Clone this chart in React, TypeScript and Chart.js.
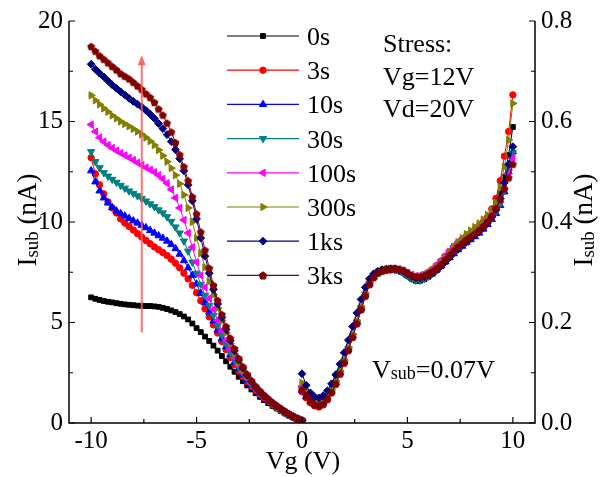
import React, { useEffect, useRef } from 'react';
import { Chart, registerables } from 'chart.js';

Chart.register(...registerables);

const FONT = "'Liberation Serif', 'Times New Roman', Times, serif";

const VG_NEG = [-10, -9.8, -9.6, -9.4, -9.2, -9, -8.8, -8.6, -8.4, -8.2, -8, -7.8, -7.6, -7.4, -7.2, -7, -6.8, -6.6, -6.4, -6.2, -6, -5.8, -5.6, -5.4, -5.2, -5, -4.8, -4.6, -4.4, -4.2, -4, -3.8, -3.6, -3.4, -3.2, -3, -2.8, -2.6, -2.4, -2.2, -2, -1.8, -1.6, -1.4, -1.2, -1, -0.8, -0.6, -0.4, -0.2, 0];
const VG_POS = [0, 0.2, 0.4, 0.6, 0.8, 1, 1.2, 1.4, 1.6, 1.8, 2, 2.2, 2.4, 2.6, 2.8, 3, 3.2, 3.4, 3.6, 3.8, 4, 4.2, 4.4, 4.6, 4.8, 5, 5.2, 5.4, 5.6, 5.8, 6, 6.2, 6.4, 6.6, 6.8, 7, 7.2, 7.4, 7.6, 7.8, 8, 8.2, 8.4, 8.6, 8.8, 9, 9.2, 9.4, 9.6, 9.8, 10];

// Left branch (Vg < 0), nA, left axis
const I_NEG_0S = [6.25, 6.18, 6.12, 6.07, 6.03, 6.0, 5.96, 5.93, 5.9, 5.88, 5.86, 5.84, 5.83, 5.82, 5.82, 5.8, 5.78, 5.73, 5.67, 5.6, 5.52, 5.42, 5.3, 5.15, 4.95, 4.72, 4.52, 4.3, 4.08, 3.85, 3.6, 3.33, 3.07, 2.8, 2.55, 2.3, 2.08, 1.87, 1.67, 1.48, 1.3, 1.14, 0.99, 0.85, 0.72, 0.59, 0.47, 0.35, 0.25, 0.16, 0.09];
const I_NEG_3S = [13.2, 12.4, 11.85, 11.4, 11.0, 10.7, 10.45, 10.15, 9.95, 9.78, 9.6, 9.42, 9.25, 9.08, 8.92, 8.76, 8.62, 8.48, 8.33, 8.15, 7.95, 7.72, 7.45, 7.17, 6.85, 6.48, 6.08, 5.68, 5.28, 4.88, 4.48, 4.05, 3.65, 3.25, 2.9, 2.58, 2.3, 2.05, 1.83, 1.62, 1.43, 1.25, 1.08, 0.92, 0.77, 0.63, 0.5, 0.38, 0.27, 0.17, 0.1];
const I_NEG_10S = [12.55, 12.0, 11.55, 11.2, 10.95, 10.72, 10.55, 10.42, 10.3, 10.18, 10.06, 9.95, 9.84, 9.72, 9.58, 9.45, 9.32, 9.2, 9.05, 8.88, 8.68, 8.4, 8.08, 7.72, 7.35, 6.92, 6.45, 5.98, 5.52, 5.07, 4.63, 4.2, 3.8, 3.4, 3.03, 2.7, 2.4, 2.13, 1.89, 1.67, 1.47, 1.28, 1.11, 0.95, 0.79, 0.65, 0.51, 0.39, 0.28, 0.18, 0.1];
const I_NEG_30S = [13.5, 13.0, 12.7, 12.45, 12.28, 12.12, 11.97, 11.82, 11.68, 11.54, 11.42, 11.3, 11.17, 11.04, 10.9, 10.76, 10.6, 10.45, 10.26, 10.03, 9.75, 9.45, 9.05, 8.55, 8.0, 7.45, 6.9, 6.35, 5.85, 5.35, 4.85, 4.38, 3.93, 3.5, 3.12, 2.78, 2.47, 2.19, 1.93, 1.71, 1.5, 1.31, 1.13, 0.96, 0.8, 0.66, 0.52, 0.4, 0.29, 0.19, 0.11];
const I_NEG_100S = [14.85, 14.5, 14.2, 14.0, 13.83, 13.68, 13.55, 13.43, 13.32, 13.2, 13.08, 12.95, 12.83, 12.71, 12.6, 12.48, 12.33, 12.15, 11.93, 11.62, 11.2, 10.7, 10.1, 9.45, 8.75, 8.0, 7.35, 6.75, 6.2, 5.65, 5.1, 4.6, 4.12, 3.67, 3.25, 2.88, 2.54, 2.24, 1.97, 1.73, 1.52, 1.32, 1.14, 0.97, 0.81, 0.67, 0.53, 0.41, 0.3, 0.2, 0.11];
const I_NEG_300S = [16.3, 16.05, 15.85, 15.65, 15.48, 15.3, 15.15, 15.0, 14.88, 14.76, 14.63, 14.5, 14.36, 14.2, 14.02, 13.82, 13.58, 13.3, 13.0, 12.68, 12.33, 11.9, 11.35, 10.7, 10.0, 9.2, 8.45, 7.75, 7.05, 6.38, 5.72, 5.1, 4.5, 3.95, 3.45, 3.0, 2.62, 2.3, 2.02, 1.77, 1.55, 1.35, 1.17, 1.0, 0.84, 0.69, 0.55, 0.42, 0.31, 0.21, 0.12];
const I_NEG_1KS = [17.85, 17.6, 17.4, 17.22, 17.02, 16.82, 16.65, 16.48, 16.32, 16.15, 16.0, 15.86, 15.72, 15.55, 15.36, 15.15, 14.9, 14.65, 14.35, 14.0, 13.6, 13.15, 12.55, 11.85, 11.05, 10.15, 9.2, 8.3, 7.45, 6.65, 5.92, 5.25, 4.65, 4.1, 3.6, 3.14, 2.74, 2.38, 2.07, 1.8, 1.57, 1.36, 1.17, 1.0, 0.85, 0.7, 0.56, 0.43, 0.32, 0.22, 0.13];
const I_NEG_3KS = [18.73, 18.5, 18.27, 18.1, 17.92, 17.74, 17.57, 17.38, 17.25, 17.12, 16.95, 16.77, 16.6, 16.38, 16.2, 15.95, 15.62, 15.32, 14.92, 14.48, 13.95, 13.35, 12.75, 12.05, 11.25, 10.4, 9.5, 8.6, 7.7, 6.85, 6.1, 5.4, 4.8, 4.22, 3.7, 3.22, 2.8, 2.43, 2.11, 1.83, 1.59, 1.38, 1.19, 1.02, 0.86, 0.71, 0.57, 0.44, 0.33, 0.23, 0.14];

// Right branch (Vg > 0), right axis
const I_POS_0S = [0.068, 0.056, 0.046, 0.04, 0.038, 0.042, 0.051, 0.064, 0.08, 0.1, 0.122, 0.146, 0.172, 0.199, 0.227, 0.254, 0.276, 0.29, 0.298, 0.302, 0.304, 0.305, 0.305, 0.303, 0.299, 0.293, 0.287, 0.283, 0.283, 0.286, 0.291, 0.297, 0.304, 0.312, 0.321, 0.33, 0.339, 0.347, 0.354, 0.361, 0.368, 0.375, 0.383, 0.392, 0.403, 0.418, 0.436, 0.458, 0.49, 0.533, 0.589];
const I_POS_3S = [0.062, 0.05, 0.04, 0.034, 0.032, 0.036, 0.046, 0.06, 0.077, 0.097, 0.119, 0.144, 0.17, 0.197, 0.225, 0.252, 0.275, 0.289, 0.298, 0.302, 0.304, 0.305, 0.305, 0.303, 0.3, 0.296, 0.292, 0.29, 0.291, 0.294, 0.299, 0.305, 0.312, 0.321, 0.331, 0.341, 0.35, 0.358, 0.365, 0.372, 0.378, 0.385, 0.392, 0.4, 0.41, 0.426, 0.447, 0.482, 0.531, 0.58, 0.653];
const I_POS_10S = [0.065, 0.052, 0.043, 0.037, 0.036, 0.04, 0.05, 0.063, 0.08, 0.1, 0.122, 0.147, 0.173, 0.2, 0.228, 0.255, 0.277, 0.291, 0.299, 0.303, 0.305, 0.306, 0.306, 0.304, 0.3, 0.294, 0.289, 0.286, 0.286, 0.289, 0.294, 0.3, 0.306, 0.313, 0.321, 0.329, 0.337, 0.345, 0.352, 0.359, 0.365, 0.371, 0.378, 0.386, 0.395, 0.405, 0.417, 0.433, 0.46, 0.5, 0.54];
const I_POS_30S = [0.07, 0.057, 0.047, 0.04, 0.038, 0.042, 0.051, 0.064, 0.081, 0.101, 0.123, 0.148, 0.174, 0.201, 0.229, 0.256, 0.278, 0.292, 0.299, 0.303, 0.305, 0.306, 0.305, 0.303, 0.299, 0.293, 0.287, 0.284, 0.284, 0.287, 0.292, 0.298, 0.305, 0.313, 0.321, 0.33, 0.338, 0.346, 0.353, 0.36, 0.367, 0.374, 0.381, 0.389, 0.398, 0.408, 0.42, 0.437, 0.462, 0.5, 0.538];
const I_POS_100S = [0.072, 0.058, 0.047, 0.04, 0.037, 0.041, 0.05, 0.063, 0.08, 0.1, 0.122, 0.147, 0.173, 0.2, 0.228, 0.255, 0.278, 0.292, 0.3, 0.304, 0.306, 0.307, 0.307, 0.306, 0.303, 0.299, 0.295, 0.293, 0.294, 0.297, 0.302, 0.308, 0.316, 0.325, 0.334, 0.343, 0.352, 0.36, 0.367, 0.373, 0.379, 0.385, 0.392, 0.399, 0.407, 0.416, 0.428, 0.445, 0.468, 0.495, 0.528];
const I_POS_300S = [0.08, 0.064, 0.051, 0.043, 0.04, 0.044, 0.053, 0.066, 0.083, 0.103, 0.125, 0.15, 0.176, 0.203, 0.231, 0.258, 0.279, 0.292, 0.3, 0.304, 0.306, 0.307, 0.307, 0.305, 0.302, 0.297, 0.292, 0.29, 0.291, 0.294, 0.299, 0.305, 0.312, 0.321, 0.331, 0.341, 0.351, 0.36, 0.368, 0.376, 0.383, 0.39, 0.397, 0.405, 0.414, 0.424, 0.438, 0.468, 0.51, 0.563, 0.636];
const I_POS_1KS = [0.098, 0.075, 0.06, 0.052, 0.05, 0.054, 0.064, 0.078, 0.096, 0.117, 0.14, 0.165, 0.192, 0.219, 0.246, 0.27, 0.287, 0.297, 0.302, 0.305, 0.306, 0.307, 0.307, 0.305, 0.302, 0.297, 0.292, 0.289, 0.289, 0.291, 0.295, 0.3, 0.306, 0.313, 0.321, 0.33, 0.339, 0.347, 0.354, 0.361, 0.368, 0.374, 0.381, 0.389, 0.398, 0.41, 0.425, 0.447, 0.478, 0.515, 0.55];
const I_POS_3KS = [0.066, 0.055, 0.045, 0.037, 0.034, 0.038, 0.048, 0.061, 0.078, 0.098, 0.12, 0.145, 0.171, 0.198, 0.226, 0.253, 0.276, 0.29, 0.299, 0.303, 0.305, 0.306, 0.307, 0.306, 0.304, 0.299, 0.294, 0.291, 0.291, 0.293, 0.297, 0.302, 0.308, 0.316, 0.325, 0.334, 0.343, 0.351, 0.358, 0.365, 0.371, 0.377, 0.384, 0.392, 0.401, 0.412, 0.427, 0.445, 0.466, 0.488, 0.515];

const SERIES_LABELS = ['0s', '3s', '10s', '30s', '100s', '300s', '1ks', '3ks'];
const SERIES_COLORS = ['#000000', '#ff0000', '#0000ff', '#008080', '#ff00ff', '#808000', '#000080', '#800000'];
const NEG_DATA = [I_NEG_0S, I_NEG_3S, I_NEG_10S, I_NEG_30S, I_NEG_100S, I_NEG_300S, I_NEG_1KS, I_NEG_3KS];
const POS_DATA = [I_POS_0S, I_POS_3S, I_POS_10S, I_POS_30S, I_POS_100S, I_POS_300S, I_POS_1KS, I_POS_3KS];

const X_TICKS = [-10, -5, 0, 5, 10];
const X_MINOR = [-7.5, -2.5, 2.5, 7.5];
const Y_TICKS = [0, 5, 10, 15, 20];
const Y_MINOR = [2.5, 7.5, 12.5, 17.5];
const Y1_TICKS = [0, 0.2, 0.4, 0.6, 0.8];
const Y1_MINOR = [0.1, 0.3, 0.5, 0.7];

const ARROW_X = -7.6;
const ARROW_FROM = 4.5;
const ARROW_TO = 18.3;

type Marker = { style: string; rot: number; r: number };
const MARKERS: Marker[] = [
  { style: 'rect', rot: 0, r: 3.4 },
  { style: 'circle', rot: 0, r: 3.2 },
  { style: 'triangle', rot: 0, r: 4.2 },
  { style: 'triangle', rot: 180, r: 4.2 },
  { style: 'triangle', rot: 270, r: 4.2 },
  { style: 'triangle', rot: 90, r: 4.2 },
  { style: 'rectRot', rot: 0, r: 3.9 },
  { style: 'pentagon', rot: 0, r: 4.0 },
];

function pentPath(ctx: CanvasRenderingContext2D, x: number, y: number, r: number) {
  ctx.beginPath();
  for (let k = 0; k < 5; k++) {
    const a = -Math.PI / 2 + (k * 2 * Math.PI) / 5;
    const px = x + Math.cos(a) * r;
    const py = y + Math.sin(a) * r;
    if (k === 0) ctx.moveTo(px, py);
    else ctx.lineTo(px, py);
  }
  ctx.closePath();
}

function makePentagon(color: string, r: number) {
  const c = document.createElement('canvas');
  const s = Math.ceil(r * 2 + 2);
  c.width = s;
  c.height = s;
  const ctx = c.getContext('2d')!;
  ctx.fillStyle = color;
  pentPath(ctx, s / 2, s / 2 + 0.4, r);
  ctx.fill();
  return c;
}

function drawMarker(ctx: CanvasRenderingContext2D, m: Marker, x: number, y: number, color: string) {
  ctx.save();
  ctx.fillStyle = color;
  ctx.strokeStyle = color;
  ctx.lineWidth = 1;
  const r = m.r;
  ctx.beginPath();
  if (m.style === 'rect') {
    const s = Math.SQRT1_2 * r;
    ctx.rect(x - s, y - s, 2 * s, 2 * s);
  } else if (m.style === 'circle') {
    ctx.arc(x, y, r, 0, Math.PI * 2);
  } else if (m.style === 'triangle') {
    let a = (m.rot * Math.PI) / 180;
    for (let k = 0; k < 3; k++) {
      const px = x + Math.sin(a) * r;
      const py = y - Math.cos(a) * r;
      if (k === 0) ctx.moveTo(px, py);
      else ctx.lineTo(px, py);
      a += (2 * Math.PI) / 3;
    }
    ctx.closePath();
  } else if (m.style === 'rectRot') {
    ctx.moveTo(x - r, y);
    ctx.lineTo(x, y - r);
    ctx.lineTo(x + r, y);
    ctx.lineTo(x, y + r);
    ctx.closePath();
  } else if (m.style === 'pentagon') {
    pentPath(ctx, x, y + 0.4, r);
  }
  ctx.fill();
  ctx.stroke();
  ctx.restore();
}

type Part = { t: string; s: number; dy?: number };
function drawRich(ctx: CanvasRenderingContext2D, parts: Part[], x: number, y: number, align: 'left' | 'center') {
  ctx.save();
  ctx.textBaseline = 'alphabetic';
  ctx.textAlign = 'left';
  let total = 0;
  const widths = parts.map((p) => {
    ctx.font = `${p.s}px ${FONT}`;
    const w = ctx.measureText(p.t).width;
    total += w;
    return w;
  });
  let cx = align === 'center' ? x - total / 2 : x;
  parts.forEach((p, i) => {
    ctx.font = `${p.s}px ${FONT}`;
    ctx.fillText(p.t, cx, y + (p.dy || 0));
    cx += widths[i];
  });
  ctx.restore();
}

const decorPlugin = {
  id: 'decor',
  afterDatasetsDraw(chart: any) {
    const ctx: CanvasRenderingContext2D = chart.ctx;
    const xs = chart.scales.x;
    const ys = chart.scales.y;
    const ax = xs.getPixelForValue(ARROW_X);
    const y0 = ys.getPixelForValue(ARROW_FROM);
    const y1 = ys.getPixelForValue(ARROW_TO);
    ctx.save();
    ctx.strokeStyle = 'rgba(255,90,90,0.85)';
    ctx.fillStyle = 'rgba(255,90,90,0.9)';
    ctx.lineWidth = 2;
    ctx.beginPath();
    ctx.moveTo(ax, y0);
    ctx.lineTo(ax, y1 + 8);
    ctx.stroke();
    ctx.beginPath();
    ctx.moveTo(ax, y1);
    ctx.lineTo(ax - 4, y1 + 10);
    ctx.lineTo(ax + 4, y1 + 10);
    ctx.closePath();
    ctx.fill();
    ctx.restore();
  },
  afterDraw(chart: any) {
    const ctx: CanvasRenderingContext2D = chart.ctx;
    const { left, right, top, bottom } = chart.chartArea;
    const xs = chart.scales.x;
    const ys = chart.scales.y;
    const y1s = chart.scales.y1;
    ctx.save();
    ctx.strokeStyle = '#000';
    ctx.lineWidth = 1.5;
    ctx.beginPath();
    ctx.moveTo(left, top);
    ctx.lineTo(left, bottom);
    ctx.lineTo(right, bottom);
    ctx.lineTo(right, top);
    ctx.stroke();
    ctx.lineWidth = 1.2;
    ctx.beginPath();
    X_TICKS.forEach((v) => {
      const p = xs.getPixelForValue(v);
      ctx.moveTo(p, bottom);
      ctx.lineTo(p, bottom - 6);
    });
    X_MINOR.forEach((v) => {
      const p = xs.getPixelForValue(v);
      ctx.moveTo(p, bottom);
      ctx.lineTo(p, bottom - 4);
    });
    Y_TICKS.forEach((v) => {
      const p = ys.getPixelForValue(v);
      ctx.moveTo(left, p);
      ctx.lineTo(left + 6, p);
    });
    Y_MINOR.forEach((v) => {
      const p = ys.getPixelForValue(v);
      ctx.moveTo(left, p);
      ctx.lineTo(left + 4, p);
    });
    Y1_TICKS.forEach((v) => {
      const p = y1s.getPixelForValue(v);
      ctx.moveTo(right, p);
      ctx.lineTo(right - 6, p);
    });
    Y1_MINOR.forEach((v) => {
      const p = y1s.getPixelForValue(v);
      ctx.moveTo(right, p);
      ctx.lineTo(right - 4, p);
    });
    ctx.stroke();
    ctx.restore();

    // legend
    ctx.save();
    SERIES_LABELS.forEach((lab, i) => {
      const ly = 36 + i * 34.2;
      ctx.strokeStyle = SERIES_COLORS[i];
      ctx.lineWidth = 1.2;
      ctx.beginPath();
      ctx.moveTo(227, ly);
      ctx.lineTo(299, ly);
      ctx.stroke();
      drawMarker(ctx, MARKERS[i], 263, ly, SERIES_COLORS[i]);
      ctx.fillStyle = '#000';
      drawRich(ctx, [{ t: lab, s: 26 }], 307, ly + 9, 'left');
    });
    ctx.restore();

    // annotations
    ctx.save();
    ctx.fillStyle = '#000';
    drawRich(ctx, [{ t: 'Stress:', s: 26 }], 383, 52, 'left');
    drawRich(ctx, [{ t: 'Vg=12V', s: 26 }], 383, 85, 'left');
    drawRich(ctx, [{ t: 'Vd=20V', s: 26 }], 383, 117, 'left');
    drawRich(ctx, [{ t: 'V', s: 26 }, { t: 'sub', s: 18, dy: 1 }, { t: '=0.07V', s: 26 }], 372, 378, 'left');
    drawRich(ctx, [{ t: 'Vg (V)', s: 26 }], 303, 469, 'center');
    const title: Part[] = [{ t: 'I', s: 27 }, { t: 'sub', s: 19, dy: 2 }, { t: ' (nA)', s: 27 }];
    ctx.save();
    ctx.translate(36, 220);
    ctx.rotate(-Math.PI / 2);
    drawRich(ctx, title, 0, 0, 'center');
    ctx.restore();
    ctx.save();
    ctx.translate(592, 220);
    ctx.rotate(-Math.PI / 2);
    drawRich(ctx, title, 0, 0, 'center');
    ctx.restore();
    ctx.restore();
  },
};

export default function App() {
  const ref = useRef<HTMLCanvasElement>(null);
  useEffect(() => {
    const canvas = ref.current;
    if (!canvas) return;
    const pent = makePentagon('#800000', 4.2);
    const datasets: any[] = [];
    SERIES_LABELS.forEach((lab, i) => {
      const m = MARKERS[i];
      const common = {
        borderColor: SERIES_COLORS[i],
        backgroundColor: SERIES_COLORS[i],
        pointBackgroundColor: SERIES_COLORS[i],
        pointBorderColor: SERIES_COLORS[i],
        borderWidth: 1,
        pointBorderWidth: 1,
        pointStyle: m.style === 'pentagon' ? pent : m.style,
        pointRotation: m.rot,
        pointRadius: m.r,
        tension: 0,
        fill: false,
        order: 7 - i,
      };
      datasets.push({
        ...common,
        label: lab,
        yAxisID: 'y',
        data: VG_NEG.map((x, k) => ({ x, y: NEG_DATA[i][k] })),
      });
      datasets.push({
        ...common,
        label: lab + ' (Vg>0)',
        yAxisID: 'y1',
        data: VG_POS.map((x, k) => ({ x, y: POS_DATA[i][k] })),
      });
    });

    const tickFont = { family: FONT, size: 25 };
    const chart = new Chart(canvas, {
      type: 'line',
      data: { datasets },
      options: {
        responsive: false,
        animation: false,
        devicePixelRatio: 1,
        layout: { padding: { top: 17, left: 0, right: 0, bottom: 0 } },
        plugins: { legend: { display: false }, tooltip: { enabled: false } },
        scales: {
          x: {
            type: 'linear',
            position: 'bottom',
            min: -11.05,
            max: 11.05,
            afterBuildTicks: (s: any) => {
              s.ticks = X_TICKS.map((v) => ({ value: v }));
            },
            afterFit: (s: any) => {
              s.height = 54;
            },
            grid: { display: false, drawTicks: false },
            border: { display: false },
            ticks: {
              font: tickFont,
              color: '#000',
              padding: 3,
              maxRotation: 0,
              autoSkip: false,
              callback: (v: any) => String(v),
            },
          },
          y: {
            type: 'linear',
            position: 'left',
            min: 0,
            max: 20,
            afterBuildTicks: (s: any) => {
              s.ticks = Y_TICKS.map((v) => ({ value: v }));
            },
            afterFit: (s: any) => {
              s.width = 69;
            },
            grid: { display: false, drawTicks: false },
            border: { display: false },
            ticks: { font: tickFont, color: '#000', padding: 6, callback: (v: any) => String(v) },
          },
          y1: {
            type: 'linear',
            position: 'right',
            min: 0,
            max: 0.8,
            afterBuildTicks: (s: any) => {
              s.ticks = Y1_TICKS.map((v) => ({ value: v }));
            },
            afterFit: (s: any) => {
              s.width = 72;
            },
            grid: { display: false, drawTicks: false },
            border: { display: false },
            ticks: { font: tickFont, color: '#000', padding: 6, callback: (v: any) => Number(v).toFixed(1) },
          },
        },
      } as any,
      plugins: [decorPlugin],
    });
    return () => chart.destroy();
  }, []);
  return (
    <div style={{ position: 'fixed', left: 0, top: 0, width: 607, height: 477, background: '#fff' }}>
      <canvas ref={ref} width={607} height={477} style={{ width: 607, height: 477, display: 'block' }} />
    </div>
  );
}
